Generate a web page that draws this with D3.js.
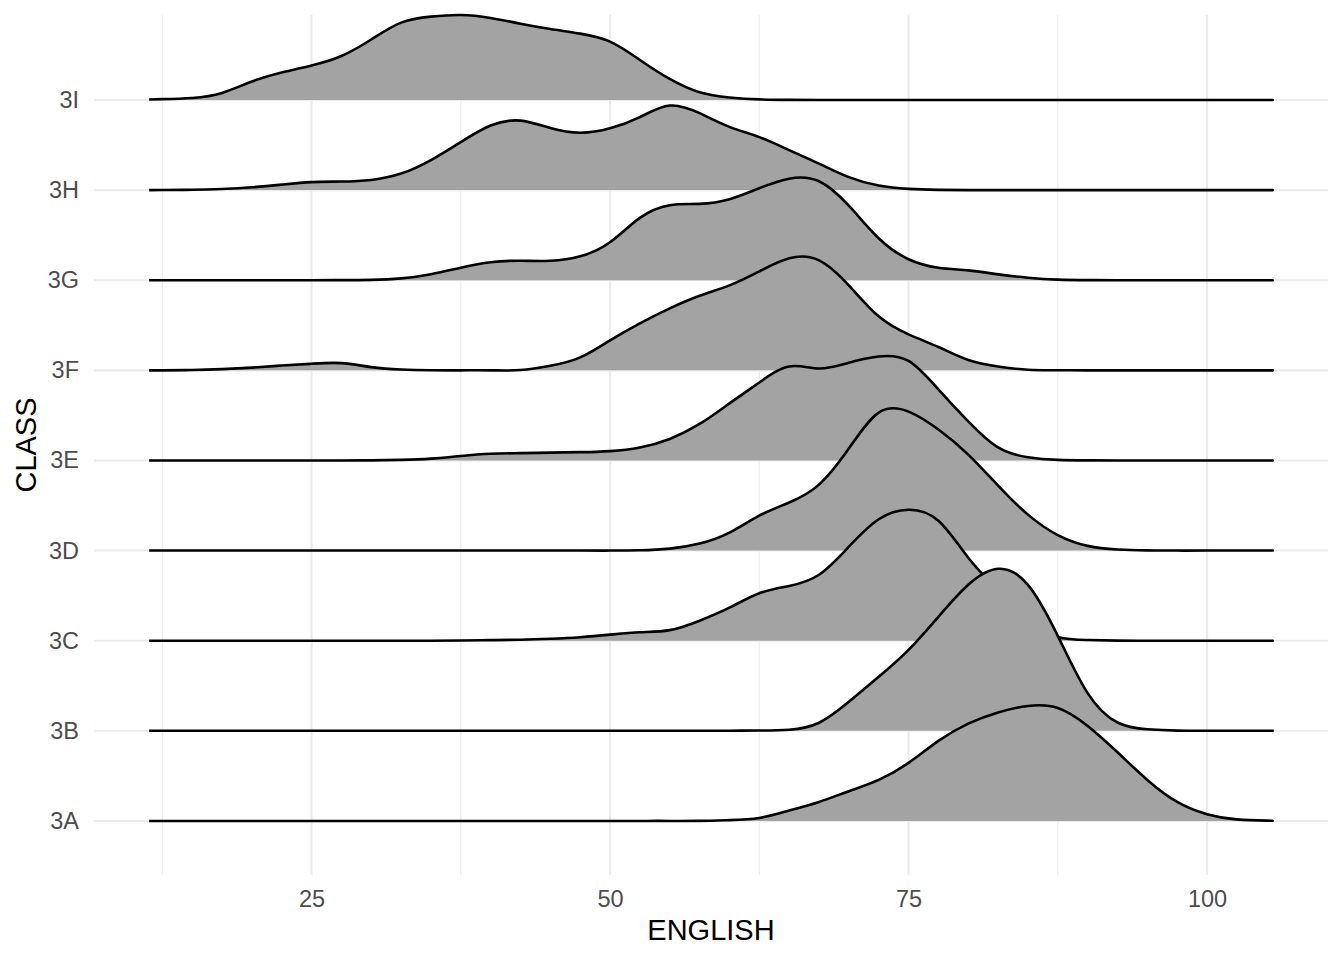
<!DOCTYPE html>
<html>
<head>
<meta charset="utf-8">
<script src="https://cdn.jsdelivr.net/npm/d3@7"></script>
<style>
  body { margin: 0; background: #fff; }
  svg { display: block; font-family: "Liberation Sans", Arial, sans-serif; }
</style>
</head>
<body>
<svg id="chart" width="1344" height="960"></svg>
<script>
// classes bottom to top
const classes = ["3A", "3B", "3C", "3D", "3E", "3F", "3G", "3H", "3I"];

// english score grid the ridges are sampled on
const scores = [11.4, 12.5, 15, 17.5, 20, 22.5, 25, 27.5, 30, 32.5, 35, 37.5, 40, 42.5, 45, 47.5,
  50, 52.5, 55, 57.5, 60, 62.5, 65, 67.5, 70, 72.5, 75, 77.5, 80, 82.5, 85, 87.5,
  90, 92.5, 95, 97.5, 100, 102.5, 105, 105.5];

// ridge heights (in units of row spacing)
const ridge3A = [0, 0, 0, 0, 0, 0, 0, 0, 0, 0, 0, 0, 0, 0, 0, 0, 0, 0, 0,
  0.001, 0.009, 0.033, 0.115, 0.211, 0.330, 0.455, 0.644, 0.888, 1.080, 1.204, 1.276, 1.254,
  1.054, 0.762, 0.455, 0.211, 0.075, 0.017, 0.003, 0.002];
const ridge3B = [0, 0, 0, 0, 0, 0, 0, 0, 0, 0, 0, 0, 0, 0, 0, 0, 0, 0, 0,
  0, 0.001, 0.003, 0.011, 0.089, 0.322, 0.599, 0.899, 1.265, 1.620, 1.798, 1.620, 1.054,
  0.418, 0.092, 0.017, 0.002, 0, 0, 0, 0];
const ridge3C = [0, 0, 0, 0, 0, 0, 0, 0, 0, 0, 0, 0.002, 0.006, 0.011, 0.022, 0.039,
  0.067, 0.094, 0.117, 0.222, 0.366, 0.527, 0.608, 0.732, 1.043, 1.348, 1.453, 1.331, 0.921, 0.555, 0.222, 0.042,
  0.008, 0.001, 0, 0, 0, 0, 0, 0];
const ridge3D = [0, 0, 0, 0, 0, 0, 0, 0, 0, 0, 0, 0, 0, 0, 0, 0,
  0, 0.003, 0.022, 0.078, 0.200, 0.388, 0.533, 0.732, 1.132, 1.531, 1.542, 1.343, 1.065, 0.721, 0.399, 0.172,
  0.052, 0.012, 0.002, 0, 0, 0, 0, 0];
const ridge3E = [0, 0, 0, 0, 0, 0, 0, 0, 0.001, 0.006, 0.020, 0.050, 0.074, 0.081, 0.087, 0.092,
  0.104, 0.144, 0.239, 0.405, 0.633, 0.865, 1.043, 1.021, 1.085, 1.154, 1.104, 0.788, 0.433, 0.144, 0.036, 0.006,
  0.001, 0, 0, 0, 0, 0, 0, 0];
const ridge3F = [0, 0, 0.003, 0.013, 0.030, 0.053, 0.073, 0.080, 0.036, 0.009, 0.001, 0, 0, 0.003, 0.050, 0.144,
  0.333, 0.522, 0.688, 0.828, 0.943, 1.098, 1.243, 1.221, 0.943, 0.599, 0.399, 0.259, 0.115, 0.043, 0.006, 0.001,
  0, 0, 0, 0, 0, 0, 0, 0];
const ridge3G = [0, 0, 0, 0, 0, 0, 0, 0.001, 0.004, 0.020, 0.067, 0.139, 0.200, 0.216, 0.216, 0.266,
  0.422, 0.692, 0.832, 0.847, 0.899, 1.021, 1.127, 1.098, 0.827, 0.466, 0.233, 0.139, 0.109, 0.065, 0.028, 0.007,
  0.001, 0, 0, 0, 0, 0, 0, 0];
const ridge3H = [0, 0.001, 0.004, 0.013, 0.031, 0.061, 0.089, 0.095, 0.113, 0.183, 0.333, 0.533, 0.716, 0.771, 0.688, 0.636,
  0.685, 0.810, 0.938, 0.854, 0.702, 0.588, 0.444, 0.294, 0.144, 0.050, 0.014, 0.003, 0, 0, 0, 0,
  0, 0, 0, 0, 0, 0, 0, 0];
const ridge3I = [0.006, 0.009, 0.022, 0.078, 0.205, 0.305, 0.383, 0.488, 0.671, 0.858, 0.925, 0.943, 0.910, 0.847, 0.788, 0.736,
  0.647, 0.444, 0.233, 0.085, 0.028, 0.007, 0.001, 0, 0, 0, 0, 0, 0, 0, 0, 0,
  0, 0, 0, 0, 0, 0, 0, 0];

const ridges = [ridge3A, ridge3B, ridge3C, ridge3D, ridge3E, ridge3F, ridge3G, ridge3H, ridge3I];

const xMajorTicks = [25, 50, 75, 100];
const xMinorTicks = [12.5, 37.5, 62.5, 87.5];

const width = 1344;
const height = 960;
const margin = { top: 15, right: 16, bottom: 85, left: 94 };

const svg = d3.select("#chart");

const x = d3.scaleLinear()
  .domain([6.78, 110.13])
  .range([margin.left, width - margin.right]);

const y = d3.scaleLinear()
  .domain([-0.6, 8.943])
  .range([height - margin.bottom, margin.top]);

// grid
const grid = svg.append("g").attr("class", "grid");

grid.selectAll(".minor")
  .data(xMinorTicks)
  .join("line")
  .attr("x1", (d) => x(d))
  .attr("x2", (d) => x(d))
  .attr("y1", y.range()[1])
  .attr("y2", y.range()[0])
  .attr("stroke", "#ebebeb")
  .attr("stroke-width", 1.1);

grid.selectAll(".major")
  .data(xMajorTicks)
  .join("line")
  .attr("x1", (d) => x(d))
  .attr("x2", (d) => x(d))
  .attr("y1", y.range()[1])
  .attr("y2", y.range()[0])
  .attr("stroke", "#ebebeb")
  .attr("stroke-width", 2.1);

grid.selectAll(".row")
  .data(classes.map((c, i) => i))
  .join("line")
  .attr("x1", x.range()[0])
  .attr("x2", x.range()[1])
  .attr("y1", (d) => y(d))
  .attr("y2", (d) => y(d))
  .attr("stroke", "#ebebeb")
  .attr("stroke-width", 2.1);

// ridges, top row first so lower rows overlap it
const ridgeGroup = svg.append("g").attr("class", "ridges");

d3.range(classes.length - 1, -1, -1).forEach((i) => {
  const pts = scores.map((s, k) => ({ s: s, h: ridges[i][k] }));

  const area = d3.area()
    .x((d) => x(d.s))
    .y0(y(i))
    .y1((d) => y(i + d.h))
    .curve(d3.curveNatural);

  const line = d3.line()
    .x((d) => x(d.s))
    .y((d) => y(i + d.h))
    .curve(d3.curveNatural);

  const g = ridgeGroup.append("g").attr("class", "ridge ridge-" + classes[i]);

  g.append("path")
    .datum(pts)
    .attr("d", area)
    .attr("fill", "#a3a3a3");

  g.append("path")
    .datum(pts)
    .attr("d", line)
    .attr("fill", "none")
    .attr("stroke", "#000")
    .attr("stroke-width", 2.6)
    .attr("stroke-linejoin", "round");
});

// axes
const xAxis = d3.axisBottom(x)
  .tickValues(xMajorTicks)
  .tickSize(0)
  .tickPadding(15);

svg.append("g")
  .attr("class", "x axis")
  .attr("transform", `translate(0,${height - margin.bottom})`)
  .call(xAxis)
  .call((g) => g.select(".domain").remove())
  .selectAll("text")
  .attr("font-size", 23.5)
  .attr("fill", "#4d4d4d");

const yAxis = d3.axisLeft(y)
  .tickValues(classes.map((c, i) => i))
  .tickFormat((i) => classes[i])
  .tickSize(0)
  .tickPadding(15);

svg.append("g")
  .attr("class", "y axis")
  .attr("transform", `translate(${margin.left},0)`)
  .call(yAxis)
  .call((g) => g.select(".domain").remove())
  .selectAll("text")
  .attr("font-size", 23.5)
  .attr("fill", "#4d4d4d");

// titles
svg.append("text")
  .attr("x", (x.range()[0] + x.range()[1]) / 2)
  .attr("y", 940)
  .attr("text-anchor", "middle")
  .attr("font-size", 29)
  .attr("fill", "#000")
  .text("ENGLISH");

svg.append("text")
  .attr("transform", `translate(36,${(y.range()[0] + y.range()[1]) / 2}) rotate(-90)`)
  .attr("text-anchor", "middle")
  .attr("font-size", 29)
  .attr("fill", "#000")
  .text("CLASS");
</script>
</body>
</html>
